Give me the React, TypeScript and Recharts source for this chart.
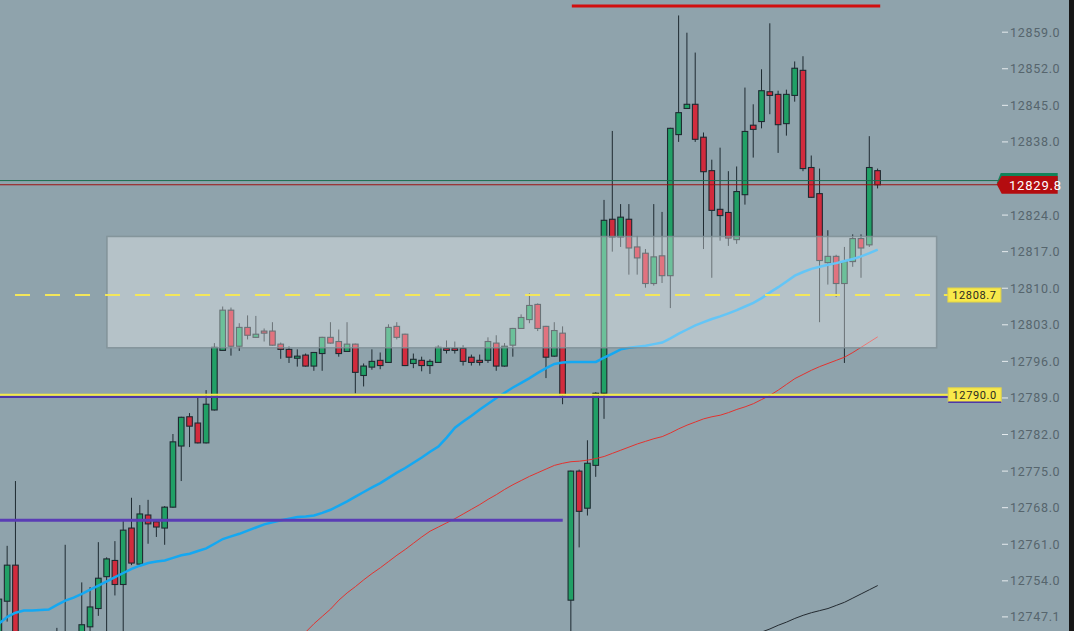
import { Bar, ComposedChart, Line, ReferenceArea, ReferenceLine, XAxis, YAxis } from "recharts";

// candle prices, first entry sits just left of the visible area
const opens = [
  12742.7, 12750.1, 12757.0, 12739.1, 12736.5, 12738.8, 12735.6, 12739.4, 12737.2, 12741.0,
  12738.6, 12745.2, 12748.7, 12754.8, 12757.9, 12753.3, 12764.1, 12757.2, 12766.6, 12765.3,
  12764.1, 12768.1, 12779.8, 12785.4, 12784.2, 12780.4, 12786.7, 12798.1, 12805.8, 12798.9,
  12802.5, 12800.6, 12801.8, 12801.8, 12799.3, 12798.3, 12796.6, 12797.2, 12795.1, 12797.5,
  12800.6, 12799.8, 12797.9, 12799.3, 12793.3, 12794.9, 12796.2, 12795.8, 12802.7, 12801.2,
  12795.6, 12796.2, 12795.2, 12795.8, 12798.5, 12798.5, 12798.5, 12796.8, 12796.2, 12796.2,
  12799.5, 12795.1, 12799.1, 12802.3, 12804.0, 12806.9, 12802.7, 12797.0, 12801.4, 12750.3,
  12775.0, 12767.9, 12776.1, 12789.9, 12823.2, 12819.8, 12823.2, 12817.9, 12816.7, 12810.9,
  12816.2, 12812.4, 12839.4, 12844.4, 12845.2, 12838.9, 12832.5, 12825.1, 12824.5, 12819.3,
  12827.9, 12841.2, 12841.9, 12847.6, 12847.1, 12841.5, 12846.9, 12851.7, 12833.1, 12828.1,
  12814.9, 12816.1, 12810.9, 12815.1, 12819.5, 12818.3, 12832.5,
];
const highs = [
  12751.3, 12760.7, 12773.1, 12741.5, 12742.0, 12740.9, 12742.8, 12745.0, 12760.9, 12743.6,
  12753.7, 12752.8, 12761.4, 12758.5, 12761.6, 12765.5, 12769.9, 12768.5, 12769.5, 12765.8,
  12768.3, 12782.1, 12785.4, 12786.1, 12789.2, 12790.5, 12799.5, 12806.5, 12806.3, 12803.3,
  12804.8, 12804.7, 12802.3, 12803.5, 12799.6, 12798.9, 12798.3, 12797.5, 12797.8, 12800.7,
  12803.5, 12802.1, 12803.5, 12799.4, 12795.6, 12798.3, 12797.7, 12803.1, 12803.5, 12801.3,
  12797.5, 12796.9, 12796.4, 12799.1, 12800.0, 12799.8, 12799.1, 12797.3, 12797.3, 12800.6,
  12801.0, 12799.5, 12802.4, 12805.0, 12809.0, 12807.1, 12802.8, 12803.5, 12802.7, 12775.1,
  12775.3, 12780.9, 12790.1, 12826.9, 12840.1, 12826.1, 12826.1, 12820.0, 12817.5, 12826.1,
  12824.6, 12840.7, 12862.2, 12858.9, 12855.1, 12839.8, 12834.6, 12836.9, 12832.4, 12833.3,
  12848.4, 12845.2, 12851.9, 12860.7, 12847.8, 12848.0, 12853.4, 12854.4, 12835.4, 12832.9,
  12821.1, 12816.4, 12817.9, 12820.3, 12820.3, 12839.1, 12832.9,
];
const lows = [
  12740.8, 12746.2, 12735.0, 12733.0, 12734.2, 12733.1, 12734.0, 12734.5, 12735.8, 12736.0,
  12737.5, 12743.0, 12747.3, 12743.8, 12751.2, 12743.8, 12757.0, 12757.0, 12761.1, 12762.4,
  12760.9, 12768.0, 12773.1, 12779.6, 12780.3, 12780.3, 12786.6, 12798.0, 12797.1, 12798.0,
  12800.2, 12800.5, 12799.8, 12799.0, 12796.5, 12795.7, 12795.0, 12795.0, 12794.2, 12794.2,
  12799.4, 12796.9, 12797.8, 12789.9, 12791.2, 12794.4, 12794.5, 12795.7, 12800.2, 12795.1,
  12794.7, 12794.1, 12793.6, 12795.7, 12797.5, 12797.5, 12795.2, 12795.2, 12795.2, 12795.7,
  12794.2, 12795.0, 12796.9, 12802.2, 12803.3, 12801.8, 12792.8, 12796.9, 12787.8, 12742.0,
  12760.4, 12766.5, 12773.9, 12785.0, 12817.0, 12817.9, 12812.6, 12812.6, 12810.1, 12810.5,
  12811.0, 12806.2, 12838.0, 12844.3, 12838.0, 12817.5, 12812.0, 12819.1, 12818.1, 12818.5,
  12826.0, 12835.0, 12840.6, 12843.3, 12835.9, 12839.2, 12845.7, 12832.4, 12827.3, 12803.5,
  12810.7, 12808.3, 12795.7, 12814.1, 12812.0, 12817.9, 12829.1,
];
const closes = [
  12750.5, 12757.0, 12739.1, 12736.5, 12738.8, 12735.6, 12739.4, 12737.2, 12741.0, 12738.5,
  12745.6, 12749.0, 12754.5, 12758.2, 12753.3, 12763.7, 12757.4, 12766.8, 12764.9, 12764.3,
  12768.1, 12780.6, 12785.3, 12783.6, 12780.4, 12787.8, 12798.7, 12805.8, 12798.9, 12802.5,
  12801.0, 12801.2, 12801.4, 12799.1, 12798.3, 12796.8, 12797.0, 12795.1, 12797.7, 12800.6,
  12799.5, 12797.5, 12799.3, 12793.9, 12795.1, 12796.0, 12795.2, 12802.5, 12800.6, 12795.2,
  12796.4, 12795.2, 12796.0, 12798.7, 12798.1, 12798.1, 12796.0, 12795.8, 12795.8, 12799.8,
  12795.1, 12798.9, 12802.3, 12804.4, 12806.7, 12802.3, 12796.8, 12801.9, 12789.6, 12775.0,
  12767.3, 12776.5, 12789.9, 12823.0, 12819.8, 12823.6, 12817.7, 12815.8, 12810.9, 12816.0,
  12812.4, 12840.6, 12843.6, 12845.2, 12838.5, 12832.3, 12824.9, 12823.9, 12819.6, 12828.5,
  12840.0, 12840.4, 12847.8, 12846.9, 12841.3, 12847.1, 12852.1, 12832.9, 12827.4, 12815.3,
  12816.1, 12810.9, 12815.1, 12819.5, 12817.7, 12833.1, 12829.8,
];

// moving averages
const maFast = [
  12745.8, 12747.1, 12747.9, 12748.3, 12748.3, 12748.4, 12748.5, 12749.4, 12750.2, 12750.8,
  12751.5, 12752.3, 12753.1, 12753.9, 12754.7, 12755.5, 12756.3, 12756.9, 12757.4, 12757.7,
  12757.9, 12758.4, 12758.9, 12759.2, 12759.7, 12760.2, 12761.1, 12762.0, 12762.5, 12763.0,
  12763.6, 12764.2, 12764.8, 12765.2, 12765.6, 12765.9, 12766.2, 12766.3, 12766.5, 12767.0,
  12767.6, 12768.4, 12769.2, 12770.1, 12771.0, 12771.9, 12772.7, 12773.7, 12774.7, 12775.6,
  12776.6, 12777.6, 12778.7, 12779.7, 12781.4, 12783.3, 12784.5, 12785.6, 12786.8, 12787.9,
  12789.0, 12790.0, 12791.0, 12791.9, 12792.8, 12793.8, 12794.7, 12795.5, 12795.8, 12795.9,
  12795.9, 12795.9, 12795.9, 12796.7, 12797.5, 12798.3, 12798.6, 12798.8, 12799.0, 12799.3,
  12799.6, 12800.4, 12801.3, 12802.1, 12802.9, 12803.5, 12804.1, 12804.6, 12805.2, 12805.8,
  12806.5, 12807.2, 12808.1, 12809.2, 12810.2, 12811.3, 12812.4, 12813.1, 12813.7, 12814.1,
  12814.5, 12814.8, 12815.2, 12815.6, 12816.1, 12816.7, 12817.4,
];
const maMid = [
  null, null, null, null, null, null, null, null, null, null,
  null, null, null, null, null, null, null, null, null, null,
  null, null, null, null, null, null, null, null, null, null,
  null, null, null, null, null, null, 12742.7, 12744.2, 12745.8, 12747.2,
  12748.6, 12750.3, 12751.7, 12752.9, 12754.2, 12755.4, 12756.5, 12757.7, 12758.9, 12760.0,
  12761.2, 12762.4, 12763.5, 12764.3, 12765.1, 12765.9, 12766.8, 12767.7, 12768.6, 12769.6,
  12770.5, 12771.5, 12772.4, 12773.2, 12774.0, 12774.7, 12775.4, 12776.1, 12776.5, 12776.8,
  12776.9, 12777.1, 12777.4, 12777.8, 12778.4, 12779.0, 12779.6, 12780.2, 12780.7, 12781.2,
  12781.6, 12782.3, 12783.1, 12783.8, 12784.4, 12785.0, 12785.4, 12785.7, 12786.2, 12786.8,
  12787.3, 12787.9, 12788.7, 12789.5, 12790.5, 12791.6, 12792.7, 12793.5, 12794.3, 12795.0,
  12795.6, 12796.2, 12796.8, 12797.7, 12798.7, 12799.7, 12800.7,
];
const maSlow = [
  null, null, null, null, null, null, null, null, null, null,
  null, null, null, null, null, null, null, null, null, null,
  null, null, null, null, null, null, null, null, null, null,
  null, null, null, null, null, null, null, null, null, null,
  null, null, null, null, null, null, null, null, null, null,
  null, null, null, null, null, null, null, null, null, null,
  null, null, null, null, null, null, null, null, null, null,
  null, null, null, null, null, null, null, null, null, null,
  null, null, null, null, null, null, null, null, null, null,
  null, 12743.7, 12744.2, 12744.8, 12745.5, 12746.1, 12746.8, 12747.4, 12747.9, 12748.3,
  12748.7, 12749.3, 12749.9, 12750.7, 12751.5, 12752.3, 12753.1,
];

// 12831.0 sits under the last-price tag, so it is not listed
const priceTicks = [
  12747.1, 12754.0, 12761.0, 12768.0, 12775.0, 12782.0, 12789.0, 12796.0,
  12803.0, 12810.0, 12817.0, 12824.0, 12838.0, 12845.0, 12852.0, 12859.0,
];

const lastPrice = 12829.8;
const askPrice = 12830.6;
const dashedLevel = 12808.7;
const solidLevel = 12789.6;
const solidLevelText = "12790.0";
const purpleUnder = 12789.2;
const purpleLow = 12765.6;
const redTop = 12864.0;
const zoneTop = 12819.9;
const zoneBottom = 12798.6;

const GREEN = "#21a066";
const RED = "#d22b3d";
const EDGE = "#1e2a31";
const BG = "#8fa3ac";

const candles = opens.map((open, i) => ({
  idx: i - 1,
  open,
  high: highs[i],
  low: lows[i],
  close: closes[i],
  range: [lows[i], highs[i]],
  maFast: maFast[i],
  maMid: maMid[i],
  maSlow: maSlow[i],
}));

function Candle(props: any) {
  const { x, y, width, height, payload } = props;
  if (payload == null || !isFinite(y) || !isFinite(height)) return null;
  const top = Math.min(y, y + height);
  const h = Math.abs(height);
  const { open, close, high, low } = payload;
  const ppu = h / (high - low);
  const cx = x + width / 2;
  const bTop = top + (high - Math.max(open, close)) * ppu;
  const bBot = top + (high - Math.min(open, close)) * ppu;
  return (
    <g>
      <line x1={cx} x2={cx} y1={top} y2={top + h} stroke={EDGE} strokeWidth={1} />
      <rect
        x={cx - 2.8}
        y={bTop}
        width={5.6}
        height={Math.max(bBot - bTop, 1.5)}
        fill={close >= open ? GREEN : RED}
        stroke={EDGE}
        strokeWidth={1.1}
      />
    </g>
  );
}

function PriceTick(props: any) {
  const { x, y, payload } = props;
  return (
    <g>
      <line x1={x + 2} x2={x + 8} y1={y} y2={y} stroke="#e6ebee" strokeWidth={1} />
      <text
        x={x + 10}
        y={y + 4.5}
        fill="#56656d"
        fontSize={12.5}
        fontFamily="Roboto, sans-serif"
        letterSpacing={0.7}
      >
        {payload.value.toFixed(1)}
      </text>
    </g>
  );
}

function LevelTag(props: any) {
  const { viewBox, text, gap, under } = props;
  if (!viewBox) return null;
  const left = viewBox.x + viewBox.width + gap;
  const y = viewBox.y;
  return (
    <g>
      {gap > 0 && <line x1={left - 4} x2={left} y1={y} y2={y} stroke="#f3e64c" strokeWidth={2} />}
      <rect x={left} y={y - 7} width={53} height={14} fill="#f8e94a" stroke="#e0d24a" strokeWidth={1} />
      {under && <line x1={left} x2={left + 53} y1={y + 7.5} y2={y + 7.5} stroke="#4d36a8" strokeWidth={1.5} />}
      <text
        x={left + 26.5}
        y={y + 4}
        textAnchor="middle"
        fill="#2a2a22"
        fontSize={11}
        fontFamily="Roboto, sans-serif"
        letterSpacing={0.6}
      >
        {text}
      </text>
    </g>
  );
}

function LastTag(props: any) {
  const { viewBox, text } = props;
  if (!viewBox) return null;
  const tip = viewBox.x + viewBox.width - 3.3;
  const y = viewBox.y - 0.4;
  return (
    <g>
      <polygon
        points={`${tip},${y - 1} ${tip + 4},${y - 11.3} ${tip + 61},${y - 11.3} ${tip + 61},${y}`}
        fill="#12835a"
      />
      <polygon
        points={`${tip},${y} ${tip + 5},${y - 8.3} ${tip + 61},${y - 8.3} ${tip + 61},${y + 9.4} ${tip + 5},${y + 9.4}`}
        fill="#b40c0f"
      />
      <text
        x={tip + 12.3}
        y={y + 5.5}
        fill="#ffffff"
        fontSize={13}
        fontFamily="Roboto, sans-serif"
        letterSpacing={0.8}
      >
        {text}
      </text>
    </g>
  );
}

export default function App() {
  return (
    <div style={{ position: "fixed", left: 0, top: 0, width: 1074, height: 631, background: "#161616" }}>
      <ComposedChart
        width={1069}
        height={631}
        data={candles}
        margin={{ top: 0, right: 0, bottom: 0, left: 0 }}
        style={{ background: BG }}
      >
        <XAxis type="number" dataKey="idx" domain={[-0.88, 119.75]} allowDataOverflow hide />
        <YAxis
          orientation="right"
          domain={[12744.4, 12865.16]}
          ticks={priceTicks}
          interval={0}
          allowDataOverflow
          width={69}
          axisLine={false}
          tickLine={false}
          tickSize={0}
          tickMargin={0}
          tick={<PriceTick />}
        />
        <Bar dataKey="range" barSize={6} shape={<Candle />} isAnimationActive={false} />
        <Line dataKey="maMid" stroke="#e2332f" strokeWidth={1} dot={false} isAnimationActive={false} />
        <Line dataKey="maSlow" stroke="#232a30" strokeWidth={1} dot={false} isAnimationActive={false} />
        <Line dataKey="maFast" stroke="#14a8f2" strokeWidth={2.5} dot={false} isAnimationActive={false} />
        <ReferenceArea
          x1={12.03}
          x2={112.1}
          y1={zoneBottom}
          y2={zoneTop}
          fill="#ffffff"
          fillOpacity={0.34}
          stroke="#7d8d94"
          strokeOpacity={0.8}
          strokeWidth={1.5}
          ifOverflow="visible"
          zIndex={450}
        />
        <ReferenceLine y={askPrice} stroke="#1b6b4d" strokeWidth={1} ifOverflow="visible" zIndex={460} />
        <ReferenceLine
          y={lastPrice}
          stroke="#9c1212"
          strokeWidth={1}
          ifOverflow="visible"
          zIndex={460}
          label={<LastTag text={lastPrice.toFixed(1)} />}
        />
        <ReferenceLine
          segment={[{ x: 68.1, y: redTop }, { x: 105.3, y: redTop }]}
          stroke="#d20f0f"
          strokeWidth={3}
          ifOverflow="visible"
          zIndex={460}
        />
        <ReferenceLine
          segment={[{ x: -0.88, y: purpleLow }, { x: 67.0, y: purpleLow }]}
          stroke="#5a3db5"
          strokeWidth={3}
          ifOverflow="visible"
          zIndex={460}
        />
        <ReferenceLine
          segment={[{ x: -0.88, y: purpleUnder }, { x: 113.5, y: purpleUnder }]}
          stroke="#4d36a8"
          strokeWidth={2}
          ifOverflow="visible"
          zIndex={460}
        />
        <ReferenceLine
          segment={[{ x: -0.88, y: solidLevel }, { x: 113.5, y: solidLevel }]}
          stroke="#f6e84a"
          strokeWidth={2}
          ifOverflow="visible"
          zIndex={460}
          label={<LevelTag text={solidLevelText} gap={0} under />}
        />
        <ReferenceLine
          segment={[{ x: 0.93, y: dashedLevel }, { x: 112.5, y: dashedLevel }]}
          stroke="#f3e65a"
          strokeWidth={2}
          strokeDasharray="15 15"
          ifOverflow="visible"
          zIndex={460}
          label={<LevelTag text={dashedLevel.toFixed(1)} gap={8} />}
        />
      </ComposedChart>
    </div>
  );
}
